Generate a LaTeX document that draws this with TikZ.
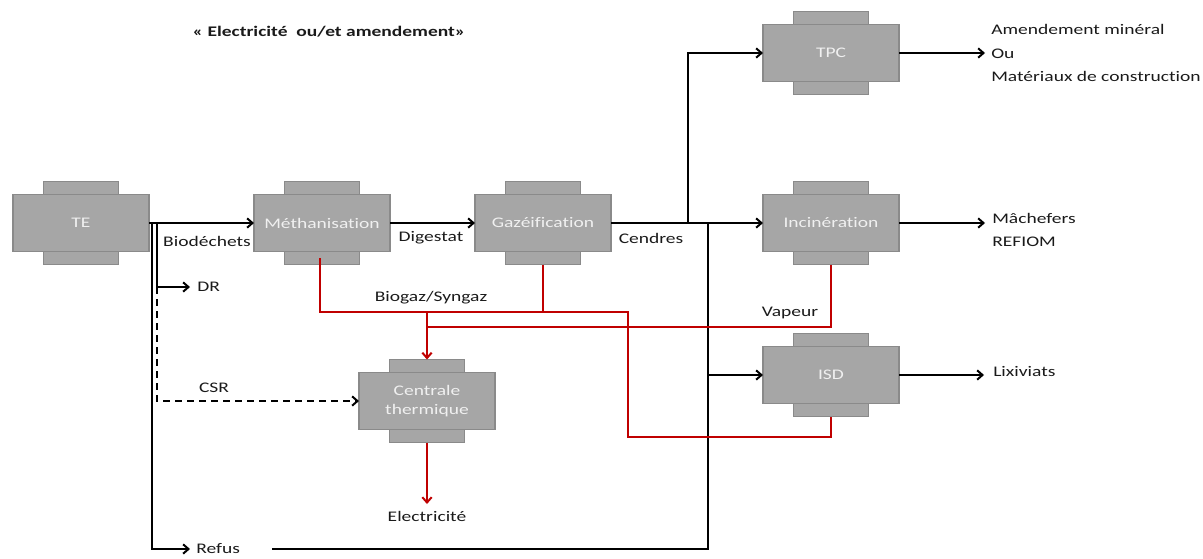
\documentclass[tikz,border=0pt]{standalone}
\usepackage{fontspec}
\setmainfont{Carlito}[FakeStretch=1.33, Ligatures={NoCommon}]
\usetikzlibrary{arrows.meta}
\definecolor{boxfill}{HTML}{A6A6A6}
\definecolor{boxline}{HTML}{8A8A8A}
\definecolor{boxtext}{HTML}{F0F0F0}
\definecolor{redline}{HTML}{C00000}
\definecolor{ink}{HTML}{1A1A1A}
\tikzset{
  proc/.style={rectangle, fill=boxfill, draw=boxline, line width=0.8pt,
    minimum width=102pt, minimum height=42.75pt, inner sep=0pt, outer sep=0pt,
    text=boxtext, align=center, font=\fontsize{11}{14}\selectfont},
  tab/.style={rectangle, fill=boxfill, draw=boxline, line width=0.8pt,
    minimum width=56.25pt, minimum height=9.75pt, inner sep=0pt, outer sep=0pt},
  lbl/.style={text=ink, inner sep=0pt, font=\fontsize{11}{17.5}\selectfont},
  flow/.style={draw=black, line width=1.6pt, -{Straight Barb[length=4pt,width=7pt,line width=1.5pt]}},
  plain/.style={draw=black, line width=1.6pt},
  dashflow/.style={flow, dash pattern=on 5pt off 4pt},
  heat/.style={draw=redline, line width=1.5pt},
  heatflow/.style={heat, -{Straight Barb[length=4pt,width=7pt,line width=1.5pt]}},
}
\newcommand\procbox[4]{%
  \node[tab] (#1-top) at (#2,#3-35) {};
  \node[tab] (#1-bot) at (#2,#3+35) {};
  \node[proc] (#1) at (#2,#3) {#4};
}
\begin{document}
\begin{tikzpicture}[x=0.75pt,y=-0.75pt]
\useasboundingbox (0,0) rectangle (1203,558);

% title
\node[lbl, font=\fontsize{11}{14}\selectfont\bfseries] (title) at (329,32) {« Electricité\ \ ou/et amendement»};

% process boxes
\procbox{TE}{81}{223}{TE}
\procbox{Meth}{322}{223}{Méthanisation}
\procbox{Gaz}{543}{223}{Gazéification}
\procbox{TPC}{831}{53}{TPC}
\procbox{Inc}{831}{223}{Incinération}
\procbox{ISD}{831}{375}{ISD}
\procbox{Cent}{427}{401}{Centrale\\thermique}

% text labels
\node[lbl] (bio) at (207,241) {Biodéchets};
\node[lbl] (dig) at (431,238) {Digestat};
\node[lbl] (cen) at (651,238) {Cendres};
\node[lbl, anchor=west] (DR) at (197,287) {DR};
\node[lbl] (CSR) at (214,388) {CSR};
\node[lbl, anchor=west] (Refus) at (196,549) {Refus};
\node[lbl] (biosyn) at (431,298) {Biogaz/Syngaz};
\node[lbl] (vap) at (790,313) {Vapeur};
\node[lbl] (elec) at (427,516) {Electricité};
\node[lbl, anchor=west, align=left] (outTPC) at (991,53) {Amendement minéral\\Ou\\Matériaux de construction};
\node[lbl, anchor=west, align=left] (outInc) at (992,230) {Mâchefers\\REFIOM};
\node[lbl, anchor=west] (outISD) at (993,371) {Lixiviats};

% coordinates
\coordinate (tpcArr) at (985,53);
\coordinate (incArr) at (985,223);
\coordinate (isdArr) at (984,375);
\coordinate (drArr) at (190,287);
\coordinate (refArr) at (190,549);
\coordinate (refStart) at (272,549);
\coordinate (elArr) at (427,504);

% black flows
\draw[flow] (TE.east) -- (Meth.west);
\draw[flow] (Meth.east) -- (Gaz.west);
\draw[flow] (Gaz.east) -- (Inc.west);
\draw[flow] (688,223) |- (TPC.west);
\draw[flow] (TPC.east) -- (tpcArr);
\draw[flow] (Inc.east) -- (incArr);
\draw[flow] (ISD.east) -- (isdArr);
\draw[flow] (157,223) -- (157,287) -- (drArr);
\draw[flow] (152,223) |- (refArr);
\draw[dashflow] (157,287) |- (Cent.west);
\draw[plain] (refStart) -| (708,223);
\draw[flow] (708,375) -- (ISD.west);

% red flows
\draw[heat] (320,258) -- (320,312) -- (628,312) -- (628,437) -| (ISD-bot.south);
\draw[heat] (Gaz-bot.south) -- (543,312);
\draw[heat] (Inc-bot.south) |- (427,327);
\draw[heatflow] (427,312) -- (Cent-top.north);
\draw[heatflow] (Cent-bot.south) -- (elArr);
\end{tikzpicture}
\end{document}
